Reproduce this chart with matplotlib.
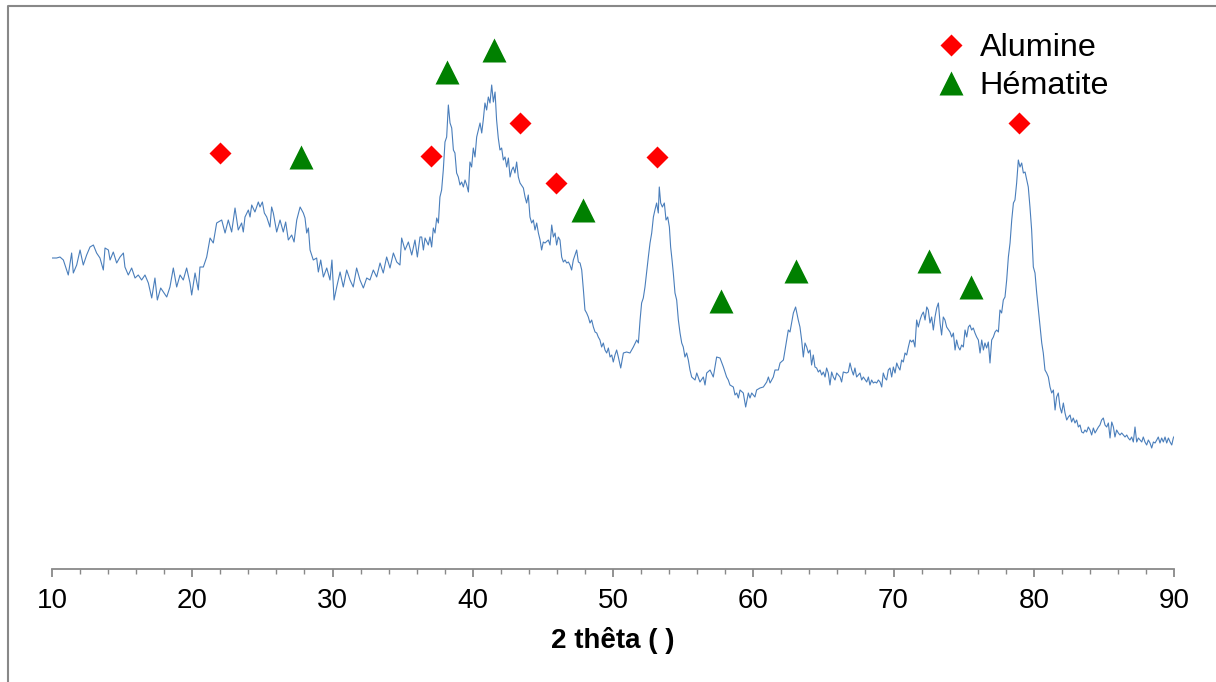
import matplotlib
matplotlib.use("Agg")
import matplotlib.pyplot as plt
from matplotlib.lines import Line2D
from matplotlib.ticker import MultipleLocator

plt.rcParams['font.family'] = ['Liberation Sans', 'DejaVu Sans']

# diffractogram (2 theta in degrees, intensity in a.u.)
two_theta = [
    10.02, 10.33, 10.57, 10.81, 11.16, 11.40, 11.52, 11.76, 12.00, 12.23, 12.47, 12.71,
    12.95, 13.18, 13.42, 13.66, 13.78, 14.02, 14.14, 14.37, 14.61, 14.85, 15.09, 15.20,
    15.44, 15.68, 15.92, 16.15, 16.39, 16.63, 16.87, 17.11, 17.34, 17.51, 17.75, 17.99,
    18.18, 18.41, 18.65, 18.89, 19.13, 19.36, 19.60, 19.84, 19.96, 20.20, 20.43, 20.55,
    20.79, 21.03, 21.27, 21.50, 21.74, 22.10, 22.34, 22.57, 22.81, 23.05, 23.28,
    23.52, 23.64, 23.76, 24.00, 24.12, 24.24, 24.47, 24.71, 24.83, 25.00, 25.14, 25.31,
    25.54, 25.66, 25.78, 26.02, 26.26, 26.49, 26.66, 26.85, 27.09, 27.26, 27.45, 27.69,
    27.92, 28.04, 28.16, 28.28, 28.40, 28.63, 28.87, 28.99, 29.16, 29.35, 29.59, 29.82,
    29.96, 30.11, 30.30, 30.54, 30.77, 31.01, 31.25, 31.48, 31.72, 31.96, 32.20, 32.44,
    32.67, 32.91, 33.15, 33.39, 33.62, 33.86, 34.10, 34.34, 34.58, 34.81, 34.93, 35.17,
    35.41, 35.65, 35.88, 36.05, 36.24, 36.36, 36.48, 36.60, 36.83, 36.95, 37.07, 37.19,
    37.31, 37.43, 37.55, 37.66, 37.78, 37.90, 38.02, 38.14, 38.26, 38.38, 38.50, 38.62,
    38.73, 38.85, 38.97, 39.09, 39.21, 39.33, 39.45, 39.57, 39.69, 39.80, 39.92, 40.04,
    40.16, 40.28, 40.40, 40.52, 40.64, 40.75, 40.87, 40.99, 41.11, 41.23, 41.35, 41.47,
    41.59, 41.70, 41.82, 41.94, 42.06, 42.18, 42.30, 42.42, 42.54, 42.66, 42.78, 42.89,
    43.01, 43.13, 43.25, 43.37, 43.61, 43.73, 43.84, 43.96, 44.08, 44.20, 44.32, 44.44,
    44.56, 44.68, 44.80, 44.91, 45.03, 45.15, 45.39, 45.51, 45.63, 45.75, 45.87, 45.98,
    46.10, 46.22, 46.34, 46.46, 46.58, 46.70, 46.82, 46.93, 47.05, 47.17, 47.41, 47.53,
    47.65, 47.77, 47.89, 48.00, 48.12, 48.24, 48.36, 48.48, 48.60, 48.72, 48.84, 48.95,
    49.07, 49.19, 49.31, 49.43, 49.55, 49.67, 49.79, 49.91, 50.02, 50.14, 50.26, 50.38,
    50.55, 50.74, 50.97, 51.21, 51.45, 51.69, 51.81, 51.93, 52.04, 52.16, 52.28, 52.40,
    52.52, 52.64, 52.76, 52.88, 52.99, 53.11, 53.23, 53.30, 53.40, 53.52, 53.66, 53.78,
    53.90, 54.02, 54.11, 54.21, 54.30, 54.42, 54.54, 54.66, 54.78, 54.90, 55.01, 55.13,
    55.25, 55.37, 55.49, 55.61, 55.85, 55.97, 56.20, 56.44, 56.56, 56.68, 56.92, 57.15,
    57.39, 57.63, 57.87, 58.10, 58.22, 58.34, 58.58, 58.70, 58.82, 58.94, 59.06, 59.29,
    59.46, 59.65, 59.77, 59.89, 60.12, 60.24, 60.48, 60.72, 60.96, 61.08, 61.20, 61.43,
    61.55, 61.79, 61.91, 62.15, 62.38, 62.50, 62.62, 62.86, 63.02, 63.21, 63.33, 63.45,
    63.57, 63.69, 63.81, 63.93, 64.05, 64.16, 64.28, 64.40, 64.52, 64.64, 64.76, 64.88,
    65.00, 65.12, 65.23, 65.35, 65.47, 65.59, 65.71, 65.83, 65.95, 66.19, 66.30, 66.42,
    66.66, 66.78, 66.90, 67.02, 67.14, 67.25, 67.37, 67.61, 67.73, 67.85, 68.09, 68.21,
    68.32, 68.44, 68.56, 68.68, 68.80, 68.92, 69.04, 69.16, 69.27, 69.39, 69.51, 69.63,
    69.75, 69.87, 69.99, 70.11, 70.23, 70.34, 70.46, 70.58, 70.70, 70.82, 70.94, 71.06,
    71.18, 71.30, 71.41, 71.53, 71.65, 71.77, 71.89, 72.01, 72.13, 72.25, 72.37, 72.48,
    72.60, 72.72, 72.84, 72.96, 73.08, 73.20, 73.32, 73.43, 73.55, 73.67, 73.79, 74.03,
    74.15, 74.27, 74.39, 74.50, 74.62, 74.74, 74.86, 74.98, 75.10, 75.22, 75.34, 75.45,
    75.57, 75.69, 75.81, 75.93, 76.05, 76.17, 76.29, 76.41, 76.52, 76.64, 76.76, 76.88,
    77.00, 77.12, 77.24, 77.36, 77.48, 77.59, 77.71, 77.83, 77.95, 78.07, 78.19, 78.31,
    78.43, 78.55, 78.66, 78.78, 78.90, 79.02, 79.14, 79.26, 79.38, 79.50, 79.61, 79.73,
    79.85, 79.97, 80.09, 80.21, 80.33, 80.45, 80.57, 80.68, 80.80, 80.92, 81.04, 81.16,
    81.28, 81.40, 81.52, 81.63, 81.75, 81.87, 81.99, 82.11, 82.23, 82.35, 82.47, 82.59,
    82.70, 82.82, 82.94, 83.06, 83.18, 83.30, 83.42, 83.54, 83.65, 83.77, 83.89, 84.01,
    84.13, 84.25, 84.37, 84.49, 84.61, 84.72, 84.84, 84.96, 85.08, 85.20, 85.32, 85.44,
    85.56, 85.68, 85.79, 85.91, 86.03, 86.15, 86.27, 86.39, 86.51, 86.63, 86.74, 86.86,
    86.98, 87.10, 87.22, 87.34, 87.46, 87.58, 87.70, 87.81, 87.93, 88.05, 88.17, 88.29,
    88.41, 88.53, 88.65, 88.77, 88.88, 89.00, 89.12, 89.24, 89.36, 89.48, 89.60, 89.72,
    89.84, 89.95, 90.07,
]
intensity = [
    311, 311, 312, 309, 294, 316, 296, 304, 319, 304, 314, 322,
    324, 316, 311, 299, 321, 319, 309, 317, 306, 312, 316, 302,
    294, 301, 291, 294, 289, 294, 286, 271, 291, 269, 281, 276,
    272, 282, 301, 282, 294, 289, 301, 286, 274, 296, 279, 302,
    302, 312, 331, 326, 346, 349, 336, 349, 337, 361, 339,
    346, 337, 352, 359, 352, 364, 357, 367, 362, 367, 356, 352,
    342, 362, 356, 337, 349, 337, 347, 329, 334, 327, 349, 362,
    356, 351, 336, 341, 319, 309, 311, 297, 309, 292, 301, 289,
    309, 269, 282, 297, 282, 299, 289, 282, 301, 289, 281, 291,
    289, 299, 292, 306, 296, 312, 301, 316, 307, 304, 331, 319,
    327, 314, 329, 312, 332, 332, 319, 331, 324, 332, 322, 341,
    336, 351, 346, 372, 379, 399, 427, 432, 464, 446, 441, 419,
    416, 396, 392, 384, 387, 382, 389, 384, 377, 407, 402, 421,
    412, 432, 439, 446, 436, 449, 466, 459, 472, 466, 484, 467,
    477, 449, 431, 419, 421, 409, 412, 402, 411, 392, 399, 402,
    396, 407, 392, 386, 381, 372, 366, 374, 352, 346, 349, 339,
    346, 336, 329, 319, 327, 326, 329, 324, 344, 332, 336, 324,
    332, 329, 312, 307, 309, 306, 307, 304, 299, 309, 319, 307,
    306, 299, 279, 259, 256, 252, 246, 249, 242, 237, 236, 232,
    229, 222, 226, 219, 216, 221, 212, 214, 207, 214, 219, 212,
    201, 216, 217, 216, 222, 229, 226, 249, 266, 271, 282, 297,
    312, 326, 336, 352, 359, 366, 356, 382, 366, 362, 366, 349,
    352, 342, 322, 309, 296, 276, 269, 249, 236, 226, 222, 212,
    216, 209, 199, 192, 189, 196, 187, 192, 184, 196, 199, 192,
    212, 211, 202, 192, 189, 184, 182, 174, 176, 171, 179, 176,
    162, 176, 171, 176, 172, 179, 181, 182, 187, 192, 186, 192,
    199, 199, 206, 209, 229, 239, 237, 256, 262, 249, 242, 229,
    212, 226, 222, 216, 219, 204, 214, 202, 201, 197, 199, 194,
    197, 192, 201, 196, 184, 197, 192, 189, 196, 192, 187, 197,
    196, 197, 206, 199, 194, 201, 192, 196, 189, 192, 187, 192,
    184, 189, 186, 187, 186, 189, 187, 182, 196, 191, 189, 199,
    201, 192, 202, 196, 206, 202, 199, 209, 207, 216, 214, 222,
    229, 227, 229, 222, 249, 242, 249, 254, 257, 249, 262, 259,
    246, 252, 239, 252, 261, 266, 246, 234, 252, 249, 242, 237,
    232, 236, 219, 229, 222, 219, 224, 222, 239, 232, 242, 244,
    239, 241, 236, 232, 229, 216, 229, 219, 226, 221, 227, 206,
    229, 232, 237, 239, 237, 259, 256, 269, 272, 289, 312, 326,
    349, 366, 369, 386, 409, 402, 406, 396, 397, 389, 382, 362,
    339, 302, 296, 276, 259, 242, 226, 216, 199, 196, 192, 182,
    176, 179, 159, 172, 176, 162, 156, 166, 156, 149, 152, 154,
    147, 151, 146, 149, 142, 144, 137, 136, 139, 137, 142, 139,
    134, 141, 136, 139, 142, 144, 149, 151, 144, 142, 146, 131,
    147, 142, 132, 139, 136, 134, 136, 134, 132, 134, 131, 129,
    132, 127, 142, 127, 131, 129, 127, 132, 127, 124, 129, 126,
    121, 127, 126, 129, 132, 126, 131, 127, 132, 126, 131, 127,
    124, 131, 134,
]

# phase markers
alumine_pos = [21.98, 37.02, 43.37, 45.94, 53.14, 78.95]
alumine_int = [416, 413, 446, 386, 412, 446]
hematite_pos = [27.75, 38.16, 41.52, 47.86, 57.70, 63.05, 72.53, 75.53]
hematite_int = [412, 497, 519, 359, 268, 298, 308, 282]

fig = plt.figure(figsize=(12.16, 6.82), dpi=100)
ax = fig.add_axes([52 / 1216, (682 - 569) / 682, (1174 - 52) / 1216, (569 - 10) / 682])

ax.plot(two_theta, intensity, color='#4a7ebb', lw=0.8)
ax.plot(alumine_pos, alumine_int, 'D', color='#ff0000', ms=11.5, mec='none', clip_on=False)
ax.plot(hematite_pos, hematite_int, '^', color='#008000', ms=17.5, mec='none', clip_on=False)

ax.set_xlim(10, 90)
ax.set_ylim(0, 559)
ax.xaxis.set_major_locator(MultipleLocator(10))
ax.xaxis.set_minor_locator(MultipleLocator(2))
ax.set_yticks([])
for s in ['top', 'right', 'left']:
    ax.spines[s].set_visible(False)
ax.spines['bottom'].set_color('#898989')
ax.spines['bottom'].set_linewidth(1.3)
ax.tick_params(axis='x', which='major', direction='out', length=5.5, width=1.3,
               color='#898989', labelsize=20, pad=8.5)
ax.tick_params(axis='x', which='minor', direction='out', length=3.5, width=1.0,
               color='#898989')
ax.set_xlabel('2 thêta ( )', fontsize=20, fontweight='bold', labelpad=9)

handles = [
    Line2D([], [], marker='D', ls='none', color='#ff0000', ms=11.5, mec='none'),
    Line2D([], [], marker='^', ls='none', color='#008000', ms=17.5, mec='none'),
]
fig.legend(handles, ['Alumine', 'Hématite'], loc='upper left',
           bbox_to_anchor=(935 / 1216, (682 - 33) / 682), frameon=False,
           fontsize=23.3, handlelength=1.0, handletextpad=0.38, labelspacing=0.26,
           borderpad=0, borderaxespad=0)

# outer frame (left and top edges visible in the reference)
fig.add_artist(Line2D([8 / 1216, 8 / 1216, 1.0], [0.0, (682 - 6) / 682, (682 - 6) / 682],
                      transform=fig.transFigure, color='#888888', lw=1.5))

fig.savefig('out.png', dpi=100)
